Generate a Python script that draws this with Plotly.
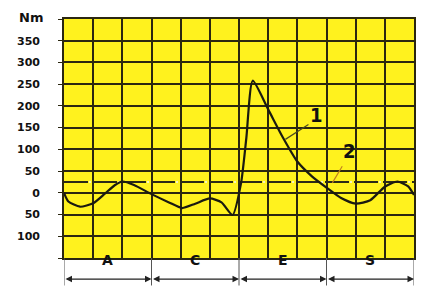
import plotly.graph_objects as go

# ---- data ----
curve1_x = [0, 0.15, 0.55, 1.0, 1.4, 1.75, 2.0, 2.4, 3.0, 3.6, 4.05, 4.5, 5.0, 5.4, 5.78,
            6.07, 6.25, 6.47, 7.0, 7.5, 8.0, 8.5, 9.0, 9.5, 10.0, 10.5, 11.0, 11.43, 11.8, 12.0]
curve1_y = [0, -20, -32, -24, -2, 18, 26, 18, -3, -22, -35, -25, -13, -22, -51,
            22, 125, 258, 192, 128, 72, 38, 12, -12, -25, -17, 14, 26, 15, -5]
line2_x = [0, 12]
line2_y = [25, 25]
tick_vals = [350, 300, 250, 200, 150, 100, 50, 0, -50, -100]
tick_text = ["350", "300", "250", "200", "150", "100", "50", "0", "50", "100"]
phases = ["A", "C", "E", "S"]
phase_bounds = [0, 3, 6, 9, 12]

YELLOW = "#FFF21E"
GRID = "#2b2710"

fig = go.Figure()
fig.add_trace(go.Scatter(x=line2_x, y=line2_y, mode="lines",
                         line=dict(color="#2b2a18", width=2, dash="24px,5px"),
                         hoverinfo="skip"))
fig.add_trace(go.Scatter(x=line2_x, y=line2_y, mode="lines",
                         line=dict(color="#f4f4c0", width=2, dash="0px,25px,2px,2px"),
                         hoverinfo="skip"))
fig.add_trace(go.Scatter(x=curve1_x, y=curve1_y, mode="lines",
                         line=dict(color="#1a1a10", width=2.2, shape="spline", smoothing=0.6),
                         hoverinfo="skip"))

# leader lines and labels
fig.add_trace(go.Scatter(x=[8.38, 7.59], y=[157, 123], mode="lines",
                         line=dict(color="#4a4a20", width=1.2), hoverinfo="skip"))
fig.add_trace(go.Scatter(x=[9.54, 9.2], y=[61, 23], mode="lines",
                         line=dict(color="#c08020", width=1.2), hoverinfo="skip"))
fig.add_annotation(x=8.65, y=180, text="<b>1</b>", showarrow=False,
                   font=dict(family="DejaVu Sans Condensed", size=20, color="#111"))
fig.add_annotation(x=9.78, y=96, text="<b>2</b>", showarrow=False,
                   font=dict(family="DejaVu Sans Condensed", size=20, color="#111"))

fig.add_annotation(xref="paper", yref="paper", x=-0.054, y=1.044, xanchor="right",
                   yanchor="top", text="<b>Nm</b>", showarrow=False,
                   font=dict(family="DejaVu Sans", size=13, color="#111"))

# phase strip below the plot
for b in phase_bounds:
    fig.add_shape(type="line", xref="x", yref="paper", x0=b, x1=b, y0=0, y1=-0.115,
                  line=dict(color="#555", width=1))
for i, p in enumerate(phases):
    a, b = phase_bounds[i], phase_bounds[i + 1]
    fig.add_annotation(xref="x", yref="paper", x=(a + b) / 2, y=-0.05, text="<b>" + p + "</b>",
                       showarrow=False, font=dict(family="DejaVu Sans", size=14, color="#111"))
    fig.add_annotation(xref="x", yref="paper", x=b, y=-0.088, ax=a, ay=0,
                       axref="x", ayref="pixel", text="", showarrow=True,
                       arrowhead=2, startarrowhead=2, arrowside="end+start",
                       arrowsize=1, arrowwidth=1.3, arrowcolor="#222")

# page body has an 8px default margin, so the figure is sized/offset to compensate
fig.update_layout(
    width=416, height=278,
    margin=dict(l=56, r=10, t=11, b=28),
    paper_bgcolor="white", plot_bgcolor=YELLOW,
    showlegend=False,
    xaxis=dict(range=[0, 12], tickvals=list(range(13)), showticklabels=False,
               showgrid=True, gridcolor=GRID, gridwidth=1.6, zeroline=False, automargin=False,
               showline=True, linecolor=GRID, linewidth=1.6, mirror=True, ticks=""),
    yaxis=dict(range=[-150, 400], tickvals=tick_vals + [-150, 400],
               ticktext=["<b>" + t + "</b>" for t in tick_text] + ["", ""],
               showgrid=True, gridcolor=GRID, gridwidth=1.6, zeroline=False, automargin=False,
               showline=True, linecolor=GRID, linewidth=1.6, mirror=True,
               ticks="outside", ticklen=4, tickcolor=GRID, ticklabelstandoff=16,
               tickfont=dict(family="DejaVu Sans", size=11, color="#111")),
)

fig.write_html("out.html")
